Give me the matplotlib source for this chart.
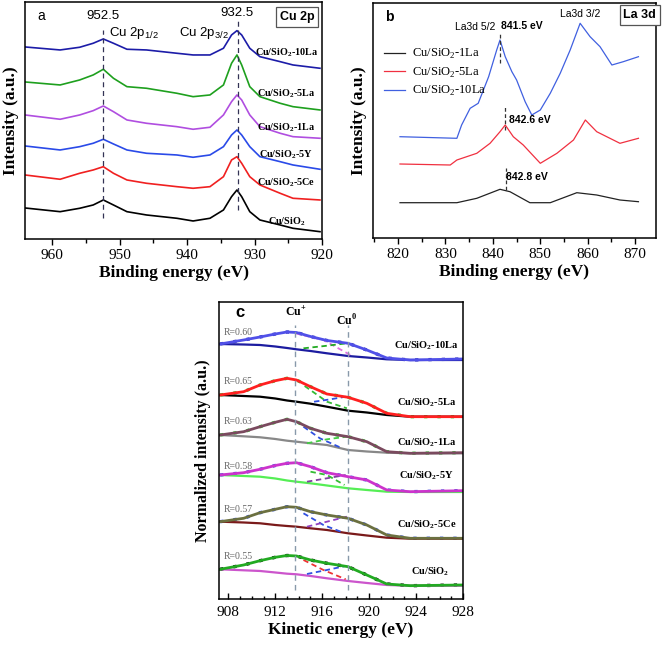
import matplotlib
matplotlib.use('Agg')
import matplotlib.pyplot as plt
from matplotlib.ticker import MultipleLocator

plt.rcParams['font.family'] = 'Liberation Serif'
plt.rcParams['mathtext.fontset'] = 'custom'
plt.rcParams['mathtext.rm'] = 'Liberation Serif'
plt.rcParams['mathtext.bf'] = 'Liberation Serif:bold'
plt.rcParams['mathtext.sf'] = 'Liberation Sans'

# ---------------- panel a : Cu 2p ----------------
be_a = [964, 958.8, 955.9, 953.9, 952.4, 950.9, 948.9, 946, 941.5, 939.1, 936.6,
        934.6, 933.4, 932.6, 931.9, 930.7, 929.2, 926.2, 924.3, 920.3]
a_10La = [192, 189, 191.7, 195.7, 200, 195.7, 189.7, 189, 185.7, 184, 184, 190.7, 204, 208.3, 204, 190.7, 182.3, 177.3, 174, 170.7]
a_5La = [157, 154, 159, 164, 169.7, 160.7, 152.3, 150.7, 145.7, 142.3, 144, 154, 175.7, 184, 174, 152.3, 142.3, 135.7, 132.3, 129]
a_1La = [124, 119.7, 124, 128.3, 133, 127.3, 119, 115.7, 112.3, 109.7, 111.7, 124, 137.3, 144, 139, 124, 112.3, 105.7, 102.3, 100.7]
a_5Y = [93, 89, 92.3, 95.7, 99.7, 95, 89, 85.7, 84, 81.7, 84, 92.3, 104, 109, 104, 92.3, 82.3, 77.3, 74, 69.7]
a_5Ce = [64, 59.7, 65.7, 69, 72.3, 65.7, 59, 55.7, 52.3, 50.7, 52.3, 62.3, 79, 82.3, 75.7, 62.3, 54, 45.7, 40.7, 39]
a_Cu = [31, 27.3, 30.7, 34, 39, 34, 27.3, 24, 20.7, 18, 20.7, 29, 42.3, 49, 42.3, 27.3, 19, 14, 10.7, 7.3]
a_names = ['10La', '5La', '1La', '5Y', '5Ce', '']
a_colors = ['#1c1ca8', '#1ea01e', '#b04ee0', '#2a4ae8', '#f02020', 'black']
a_label_y = [186, 145, 111, 84, 56, 17]

# ---------------- panel b : La 3d ----------------
be_b10 = [820.4, 832.4, 833.4, 835.2, 836.9, 839.1, 840.8, 841.5, 842.6, 844, 845, 846.8, 848.2,
          850, 852.1, 854.2, 856.3, 858.4, 860.5, 862.6, 865.1, 867.5, 870.7]
b_10La = [101.3, 99.7, 113, 129.7, 134.7, 161.3, 188, 198, 181.3, 166.3, 158, 136.3, 123,
          128, 144.7, 164.7, 188, 214.7, 201.3, 191.3, 173, 176.3, 181.3]
be_b5 = [820.4, 831, 832.4, 836.6, 839.4, 841.5, 842.6, 844.3, 846.4, 850, 853.5, 857, 859.5, 861.9, 866.8, 870.7]
b_5La = [74, 73, 78, 84.7, 94.7, 106.3, 113, 101.3, 93, 74.7, 84.7, 98, 118, 106.3, 94.7, 99.7]
be_b1 = [820.4, 832.4, 836.6, 841.5, 843.6, 847.8, 852.1, 857.7, 861.9, 866.8, 870.7]
b_1La = [35.3, 35.3, 39.7, 48.7, 46.3, 35.3, 35.3, 45.3, 43, 38, 36.3]

# ---------------- panel c : Cu LMM ----------------
ke = [907.3, 909.3, 910.7, 912, 913, 913.8, 915, 916.4, 918.2, 919.8, 921.5, 923.5, 928]
c_env = [
    [255, 259, 262, 265, 267, 266.5, 262.5, 258.5, 255.7, 249, 241, 239, 240],
    [204, 207.3, 214, 218.3, 220.7, 219, 212.3, 205, 201.7, 195.7, 185.7, 182.3, 182.3],
    [164, 167.3, 172.3, 176.7, 179.7, 177.3, 170.7, 165.7, 162.3, 157.3, 147.3, 145.7, 146.3],
    [124, 126.3, 129.7, 133.5, 135.7, 136.3, 132.3, 126.3, 122.3, 119, 109, 107.3, 108.3],
    [77.3, 80.7, 86.3, 89.7, 92.3, 91.7, 87.3, 84, 80.7, 74, 64, 60.7, 60.7],
    [29.7, 34, 38.3, 41.7, 43.5, 43, 39, 35.7, 32.3, 24, 15, 13.3, 14],
]
c_bg = [
    [255, 254.5, 254, 252.5, 251, 249.7, 248, 245.7, 243, 241.5, 239.7, 239, 239],
    [204, 203, 202.3, 200.5, 198.5, 197.3, 195.3, 192.3, 188.3, 186.5, 184, 182.3, 182.3],
    [164, 162.7, 161.7, 160, 158.3, 157.3, 155.7, 154, 149, 147.5, 146.3, 145.7, 145.7],
    [124, 123, 122.3, 120.5, 118.5, 117.3, 115.7, 113.5, 110.7, 109, 107.3, 107, 107],
    [77.3, 76.5, 75.7, 74, 73, 72.3, 70.7, 69, 65.7, 63.5, 61.3, 60.3, 60.3],
    [29.7, 28.7, 28, 26.5, 25.3, 24.7, 23, 20.7, 18, 16, 14, 13.3, 13.3],
]
# Cu+ component (falling) and Cu0 component (rising)
c_cup_ke = [[913.7, 916.1, 918.4], [914.5, 916.4, 918.1], [914.4, 915.8, 917.7],
            [915, 916.4, 917.9], [914.4, 916.1, 917.8], [914.4, 916.1, 918]]
c_cup = [[265.7, 259, 244], [213, 197.3, 190.7], [172.3, 160.7, 150.7],
         [127.3, 124, 114], [85.7, 74, 66.3], [39, 29, 19.7]]
c_cu0_ke = [[914.4, 916.2, 918.1], [915.3, 916.6, 918], [914.7, 916.4, 918.1],
            [914.7, 916.4, 918], [914.7, 916.4, 918.1], [914.7, 916.4, 918]]
c_cu0 = [[250.7, 253, 255.7], [197.3, 199.5, 202.3], [155.7, 159.7, 162.3],
         [117.3, 120.7, 124], [72.3, 77.3, 82.3], [25, 29, 33]]
c_R = ['0.60', '0.65', '0.63', '0.58', '0.57', '0.55']
c_env_col = ['#5050e8', '#ff2020', '#7a4a5e', '#cc33cc', '#6b7040', '#22aa22']
c_dot_col = ['#3030c0', '#33cc33', '#33cc33', '#3050e0', '#3050e0', 'black']
c_bg_col = ['#1c1ca0', 'black', '#888888', '#55ee55', '#7a1a1a', '#cc55cc']
c_cup_col = ['#e070e0', '#33bb33', '#3050e0', '#33bb33', '#3050e0', '#ee3333']
c_cu0_col = ['#22aa22', '#3050e0', '#44cc44', '#8040a0', '#9040c0', '#3050e0']
c_label_y = [253, 196, 156, 123, 74, 27]
c_R_y = [266, 217, 177, 132, 89, 42]

fig = plt.figure(figsize=(6.62, 6.51), dpi=100)

# ======== a ========
ax = fig.add_axes([0.0378, 0.6329, 0.4486, 0.3641])
for y, c in zip([a_10La, a_5La, a_1La, a_5Y, a_5Ce, a_Cu], a_colors):
    ax.plot(be_a, y, color=c, lw=1.2)
ax.plot([952.5, 952.5], [21, 209], ls=(0, (4, 3)), color='#333355', lw=0.9)
ax.plot([932.5, 932.5], [29, 219], ls=(0, (4, 3)), color='#333355', lw=0.9)
for n, yy in zip(a_names, a_label_y):
    s = r'Cu/SiO$_\mathbf{2}$' + ('-' + n if n else '')
    ax.text(925.3, yy, s, fontsize=7.3, fontweight='bold', ha='center', va='center')
ax.text(962.2, 223, 'a', family='Liberation Sans', fontsize=10, va='center')
ax.text(952.4, 223, '952.5', family='Liberation Sans', fontsize=9.5, ha='center', va='center')
ax.text(932.6, 226, '932.5', family='Liberation Sans', fontsize=9.5, ha='center', va='center')
ax.text(947.9, 206, r'Cu 2p$_\mathsf{1/2}$', family='Liberation Sans', fontsize=9.5, ha='center', va='center')
ax.text(937.5, 206, r'Cu 2p$_\mathsf{3/2}$', family='Liberation Sans', fontsize=9.5, ha='center', va='center')
ax.text(0.916, 0.937, 'Cu 2p', transform=ax.transAxes, family='Liberation Sans', fontsize=9,
        fontweight='bold', ha='center', va='center',
        bbox=dict(boxstyle='square,pad=0.3', fc='white', ec='#555555', lw=0.9))
ax.set_xlim(964, 920)
ax.set_ylim(0, 237)
ax.set_yticks([])
ax.xaxis.set_major_locator(MultipleLocator(10))
ax.xaxis.set_minor_locator(MultipleLocator(5))
ax.tick_params(axis='x', labelsize=11, direction='out', length=4, width=1)
ax.tick_params(axis='x', which='minor', direction='out', length=3, width=1)
ax.set_xlabel('Binding energy (eV)', fontsize=12.5, fontweight='bold', labelpad=2)
ax.set_ylabel('Intensity (a.u.)', fontsize=12.5, fontweight='bold', labelpad=4)
for sp in ax.spines.values():
    sp.set_linewidth(1.1)

# ======== b ========
ax = fig.add_axes([0.5634, 0.6344, 0.4275, 0.361])
ax.plot(be_b1, b_1La, color='#222222', lw=0.9, label=r'Cu/SiO$_2$-1La')
ax.plot(be_b5, b_5La, color='#f03040', lw=0.9, label=r'Cu/SiO$_2$-5La')
ax.plot(be_b10, b_10La, color='#4060e0', lw=0.9, label=r'Cu/SiO$_2$-10La')
ax.plot([841.5, 841.5], [175, 206], ls=(0, (3, 2)), color='#333333', lw=0.9)
ax.plot([842.6, 842.6], [108, 133], ls=(0, (3, 2)), color='#333333', lw=0.9)
ax.plot([842.8, 842.8], [48, 70], ls=(0, (3, 2)), color='#333333', lw=0.9)
ax.text(836.2, 211, 'La3d 5/2', family='Liberation Sans', fontsize=7.5, ha='center', va='center')
ax.text(846.2, 212, '841.5 eV', family='Liberation Sans', fontsize=7.5, fontweight='bold', ha='center', va='center')
ax.text(858.4, 224, 'La3d 3/2', family='Liberation Sans', fontsize=7.5, ha='center', va='center')
ax.text(847.8, 118, '842.6 eV', family='Liberation Sans', fontsize=7.5, fontweight='bold', ha='center', va='center')
ax.text(847.2, 61, '842.8 eV', family='Liberation Sans', fontsize=7.5, fontweight='bold', ha='center', va='center')
ax.text(817.3, 221, 'b', family='Liberation Sans', fontsize=10, fontweight='bold', va='center')
ax.text(0.943, 0.949, 'La 3d', transform=ax.transAxes, family='Liberation Sans', fontsize=9,
        fontweight='bold', ha='center', va='center',
        bbox=dict(boxstyle='square,pad=0.3', fc='white', ec='#555555', lw=0.9))
ax.legend(loc='upper left', bbox_to_anchor=(0.0, 0.86), frameon=False, fontsize=9,
          handlelength=1.7, handletextpad=0.5, labelspacing=0.35)
ax.set_xlim(814.7, 874.4)
ax.set_ylim(0, 235)
ax.set_yticks([])
ax.xaxis.set_major_locator(MultipleLocator(10))
ax.xaxis.set_minor_locator(MultipleLocator(5))
ax.tick_params(axis='x', labelsize=11, direction='out', length=4, width=1)
ax.tick_params(axis='x', which='minor', direction='out', length=3, width=1)
ax.set_xlabel('Binding energy (eV)', fontsize=12.5, fontweight='bold', labelpad=2)
ax.set_ylabel('Intensity (a.u.)', fontsize=12.5, fontweight='bold', labelpad=4)
for sp in ax.spines.values():
    sp.set_linewidth(1.1)

# ======== c ========
ax = fig.add_axes([0.3308, 0.0799, 0.3686, 0.4562])
for i in range(6):
    ax.plot(ke, c_env[i], color=c_dot_col[i], lw=2.4, ls=(0, (1, 3)))
    ax.plot(ke, c_bg[i], color=c_bg_col[i], lw=1.6)
    ax.plot(c_cup_ke[i], c_cup[i], color=c_cup_col[i], lw=1.3, ls=(0, (3, 2)))
    ax.plot(c_cu0_ke[i], c_cu0[i], color=c_cu0_col[i], lw=1.3, ls=(0, (3, 2)))
    ax.plot(ke, c_env[i], color=c_env_col[i], lw=2.0)
    ax.text(907.6, c_R_y[i], 'R=' + c_R[i], color='#666666', fontsize=7, va='center')
    n = ['10La', '5La', '1La', '5Y', '5Ce', ''][i]
    s = r'Cu/SiO$_\mathbf{2}$' + ('-' + n if n else '')
    ax.text(924.9 if n else 925.2, c_label_y[i], s, fontsize=7.5, fontweight='bold', ha='center', va='center')
ax.plot([913.7, 913.7], [9, 274], ls=(0, (4, 3)), color='#8899aa', lw=1)
ax.plot([918.2, 918.2], [9, 274], ls=(0, (4, 3)), color='#8899aa', lw=1)
ax.text(908.6, 286, 'c', family='Liberation Sans', fontsize=12, fontweight='bold', va='center')
ax.text(913.7, 287, r'Cu$^\mathbf{+}$', fontsize=8.5, fontweight='bold', ha='center', va='center')
ax.text(918.1, 278, r'Cu$^\mathbf{0}$', fontsize=8.5, fontweight='bold', ha='center', va='center')
ax.set_xlim(907.2, 928)
ax.set_ylim(0, 297)
ax.set_yticks([])
ax.set_xticks([908, 912, 916, 920, 924, 928])
ax.xaxis.set_minor_locator(MultipleLocator(1))
ax.tick_params(axis='x', labelsize=11, direction='in', length=4, width=1, pad=5)
ax.tick_params(axis='x', which='minor', direction='in', length=2.5, width=1)
ax.set_xlabel('Kinetic energy (eV)', fontsize=12.5, fontweight='bold', labelpad=2)
ax.set_ylabel('Normalized intensity (a.u.)', fontsize=11.5, fontweight='bold', labelpad=6)
for sp in ax.spines.values():
    sp.set_linewidth(1.1)

plt.savefig('out.png', dpi=100)
